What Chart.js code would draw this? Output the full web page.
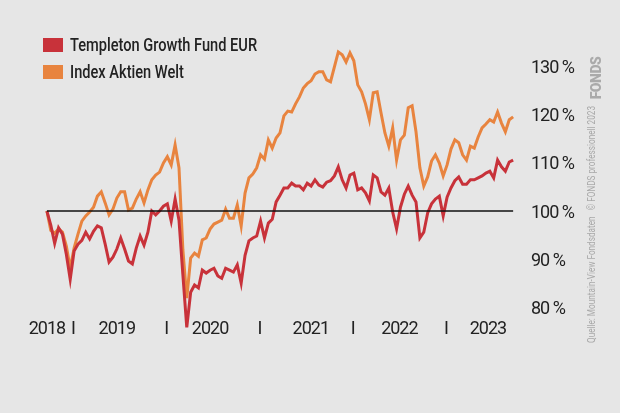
<!DOCTYPE html>
<html>
<head>
<meta charset="utf-8">
<script src="https://cdn.jsdelivr.net/npm/chart.js@4.4.0/dist/chart.umd.min.js"></script>
<style>
  html, body { margin: 0; padding: 0; background: #e6e6e6; }
  #wrap { position: relative; width: 620px; height: 413px; overflow: hidden; }
  #legend { position: absolute; left: 43px; top: 31px; font-family: Roboto, sans-serif; font-weight: 500; font-size: 19px; color: #222; }
  .item { height: 27px; display: flex; align-items: center; }
  .sw { width: 20px; height: 14px; margin-right: 7px; flex: none; }
  .txt { display: inline-block; transform-origin: 0 50%; white-space: nowrap; }
  .vert { position: absolute; white-space: nowrap; font-family: Roboto, sans-serif; }
  #source { font-size: 11px; color: #a9a9a9; }
  #logo { font-size: 15px; font-weight: 900; color: #aaa; letter-spacing: -0.5px; }
</style>
</head>
<body>
<div id="wrap">
  <canvas id="chart"></canvas>
  <div id="legend"></div>
  <div id="source" class="vert">Quelle: Mountain-View Fondsdaten &nbsp;&nbsp;© FONDS professionell 2023</div>
  <div id="logo" class="vert">FONDS</div>
</div>
<script>
// series: one point every half month, starting Sept 2018
const START = 2018.72;
const STEP = 1 / 24;

const SERIES_NAMES = ["Templeton Growth Fund EUR", "Index Aktien Welt"];
const SERIES_COLORS = ["#c8323a", "#e8843f"];

const fonds = [
  100, 97.1, 93.3, 96.5, 95.2, 91.0, 85.8, 91.7, 93.1, 93.9,
  95.6, 94.2, 95.8, 96.9, 96.5, 93.1, 89.4, 90.4, 92.1, 94.4,
  92.1, 89.6, 89.0, 92.3, 94.8, 92.9, 95.6, 100, 99.2, 100,
  101.0, 101.5, 97.9, 102.5, 98.1, 86.7, 75.8, 83.1, 84.6, 84.0,
  87.7, 87.1, 87.7, 88.1, 86.5, 86.0, 88.1, 87.7, 87.3, 88.8,
  85.0, 90.8, 93.8, 94.4, 94.8, 97.9, 94.4, 97.5, 98.3, 101.9,
  103.3, 104.8, 104.8, 105.8, 105.2, 105.2, 104.4, 105.8, 105.2, 106.5,
  105.4, 105.0, 106.0, 106.3, 107.3, 109.2, 106.5, 104.8, 107.5, 107.9,
  104.4, 104.8, 103.8, 102.1, 107.5, 106.9, 104.0, 103.3, 104.8, 99.8,
  96.3, 100.8, 103.5, 105.2, 103.3, 101.9, 94.4, 95.6, 99.6, 101.5,
  102.5, 103.1, 99.0, 102.9, 104.8, 106.3, 107.1, 105.6, 105.6, 106.5,
  106.5, 106.9, 107.3, 107.9, 108.3, 106.9, 110.6, 109.2, 108.3, 110.2,
  110.6
];

const index = [
  100, 96.0, 95.4, 96.3, 95.6, 92.7, 88.1, 92.3, 95.2, 97.9,
  99.0, 99.8, 100.8, 103.1, 104.0, 101.7, 99.2, 100.4, 102.7, 104.0,
  104.0, 100.2, 100.6, 102.5, 104.0, 101.7, 104.4, 106.5, 107.5, 108.1,
  110.0, 111.3, 109.6, 113.75, 109.0, 91.9, 81.9, 90.2, 91.25, 90.6,
  94.0, 94.4, 96.25, 97.3, 97.7, 98.1, 100.4, 98.5, 98.5, 101.25,
  96.9, 103.75, 106.9, 107.7, 109.0, 111.7, 110.8, 114.8, 113.1, 115.2,
  116.25, 119.8, 120.8, 120.6, 122.3, 123.75, 125.6, 126.5, 127.1, 128.5,
  129.0, 129.0, 127.3, 126.9, 130.0, 133.1, 132.5, 131.0, 132.9, 131.25,
  126.25, 124.8, 122.3, 119.0, 124.6, 124.8, 120.4, 116.25, 113.5, 117.3,
  110.6, 114.8, 115.8, 121.5, 121.9, 116.5, 109.0, 105.2, 107.1, 110.4,
  111.7, 110.0, 107.3, 109.6, 112.9, 114.8, 114.2, 111.7, 110.6, 113.5,
  113.1, 115.4, 117.3, 118.1, 119.0, 118.5, 120.6, 118.3, 116.5, 119.0,
  119.6
];

const BASELINE = 100;

const xTickValues = [2018.72, 2019, 2019.47, 2020, 2020.47, 2021, 2021.55, 2022, 2022.5, 2023, 2023.45];
const xTickLabels = ["2018", "I", "2019", "I", "2020", "I", "2021", "I", "2022", "I", "2023"];
const yTickValues = [80, 90, 100, 110, 120, 130];

const toPoints = arr => arr.map((v, i) => ({ x: START + i * STEP, y: v }));
const lastX = START + (fonds.length - 1) * STEP;

// legend as html so it can sit over the plot; squeeze text to look condensed
const legend = document.getElementById("legend");
const spans = SERIES_NAMES.map((name, i) => {
  const row = document.createElement("div");
  row.className = "item";
  row.innerHTML = '<span class="sw" style="background:' + SERIES_COLORS[i] + '"></span><span class="txt">' + name + '</span>';
  legend.appendChild(row);
  return row.querySelector(".txt");
});
const sx = 187 / spans[0].offsetWidth;
spans.forEach(s => s.style.transform = "scaleX(" + sx + ")");

// vertical credit line at the right edge
function placeVert(el, cx, cy, len) {
  const w = el.offsetWidth, h = el.offsetHeight;
  el.style.left = (cx - w / 2) + "px";
  el.style.top = (cy - h / 2) + "px";
  el.style.transform = "rotate(-90deg) scaleX(" + (len / w) + ")";
}
placeVert(document.getElementById("source"), 592, 224, 237);
placeVert(document.getElementById("logo"), 596, 78, 43);

const font = { family: "Roboto, sans-serif", size: 18 };

const squeeze = {
  id: "squeeze",
  beforeDraw: chart => { chart.ctx.letterSpacing = "-1px"; }
};

new Chart(document.getElementById("chart"), {
  type: "line",
  data: {
    datasets: [
      {
        label: "100",
        data: [{ x: START, y: BASELINE }, { x: lastX, y: BASELINE }],
        borderColor: "#111",
        borderWidth: 1.5,
        pointRadius: 0,
        order: 0
      },
      {
        label: SERIES_NAMES[0],
        data: toPoints(fonds),
        borderColor: SERIES_COLORS[0],
        borderWidth: 3,
        pointRadius: 0,
        tension: 0,
        clip: false,
        order: 1
      },
      {
        label: SERIES_NAMES[1],
        data: toPoints(index),
        borderColor: SERIES_COLORS[1],
        borderWidth: 3,
        pointRadius: 0,
        tension: 0,
        clip: false,
        order: 2
      }
    ]
  },
  plugins: [squeeze],
  options: {
    responsive: true,
    maintainAspectRatio: false,
    animation: false,
    layout: { padding: { left: 40, right: 35, top: 38, bottom: 71 } },
    plugins: { legend: { display: false }, tooltip: { enabled: false } },
    scales: {
      x: {
        type: "linear",
        min: 2018.646,
        max: 2023.74,
        grid: { display: false, drawTicks: false },
        border: { display: false },
        afterBuildTicks: axis => { axis.ticks = xTickValues.map(v => ({ value: v })); },
        afterFit: axis => { axis.height = 30; },
        ticks: {
          autoSkip: false,
          maxRotation: 0,
          padding: 7,
          color: "#222",
          font: font,
          callback: (v, i) => xTickLabels[i]
        }
      },
      y: {
        position: "right",
        min: 79,
        max: 136,
        grid: { display: false, drawTicks: false },
        border: { display: false },
        afterBuildTicks: axis => { axis.ticks = yTickValues.map(v => ({ value: v })); },
        afterFit: axis => { axis.width = 70; },
        ticks: {
          padding: 16,
          labelOffset: 2,
          color: "#222",
          font: font,
          callback: v => v + " %"
        }
      }
    }
  }
});
</script>
</body>
</html>
